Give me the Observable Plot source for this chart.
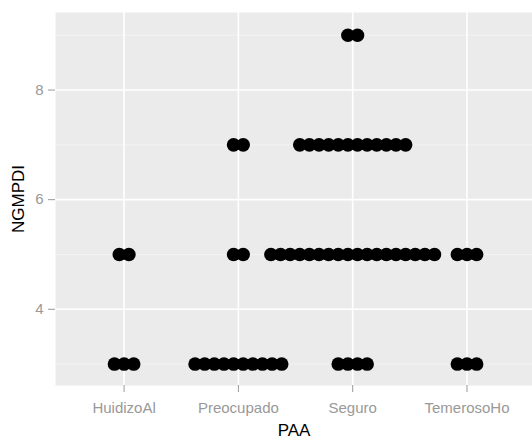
<!DOCTYPE html>
<html><head><meta charset="utf-8">
<script src="https://cdn.jsdelivr.net/npm/d3@7"></script>
<script src="https://cdn.jsdelivr.net/npm/@observablehq/plot@0.6"></script>
<style>body{margin:0;background:#fff}</style>
</head><body><div id="chart"></div>
<script>
// Categories (x axis)
const categories = ["HuidizoAl", "Preocupado", "Seguro", "TemerosoHo"];
// Groups of stacked dots: category, NGMPDI value, number of dots
const groupPAA    = ["HuidizoAl","HuidizoAl","Preocupado","Preocupado","Preocupado","Seguro","Seguro","Seguro","Seguro","TemerosoHo","TemerosoHo"];
const groupNGMPDI = [3, 5, 3, 5, 7, 3, 5, 7, 9, 3, 5];
const groupCount  = [3, 2, 10, 2, 2, 4, 18, 12, 2, 3, 3];
// Tick values
const yTicks = [4, 6, 8];
const yMinor = [3, 5, 7, 9];

const step = 0.0842; // horizontal spacing between stacked dots (x units)
const dots = [];
groupPAA.forEach((p, i) => {
  const n = groupCount[i], c = categories.indexOf(p);
  for (let k = 0; k < n; k++) dots.push({paa: p, x: c + (k - (n - 1) / 2) * step, y: groupNGMPDI[i]});
});
const catIdx = categories.map((d, i) => i);

const chart = Plot.plot({
  width: 532, height: 448,
  marginLeft: 55, marginRight: 0, marginTop: 12, marginBottom: 63,
  style: {fontFamily: "'Liberation Sans', Arial, sans-serif", fontSize: "15px", background: "white"},
  x: {domain: [-0.6, 3.573]},
  y: {domain: [2.609, 9.415]},
  marks: [
    Plot.frame({fill: "#EBEBEB", stroke: "none"}),
    Plot.ruleY(yMinor, {stroke: "#F3F3F3", strokeWidth: 1}),
    Plot.ruleY(yTicks, {stroke: "white", strokeWidth: 1.6}),
    Plot.ruleX(catIdx, {stroke: "white", strokeWidth: 1.6}),
    Plot.dot(dots, {x: "x", y: "y", r: 6.8, fill: "black", stroke: "none"}),
    Plot.axisX(catIdx, {tickFormat: i => categories[i], tickSize: 7, tickPadding: 10, stroke: "#999", color: "#999",
      label: "PAA", labelArrow: "none", labelAnchor: "center", labelOffset: 50, fontSize: 15}),
    Plot.axisY(yTicks, {tickFormat: d => String(d), tickSize: 7, tickPadding: 5, stroke: "#999", color: "#999",
      label: "NGMPDI", labelArrow: "none", labelAnchor: "center", labelOffset: 44, fontSize: 15})
  ]
});
// Axis titles in black, slightly larger, no arrows
chart.querySelectorAll("g[aria-label='x-axis label'] text, g[aria-label='y-axis label'] text").forEach(t => {
  t.setAttribute("fill", "black");
  t.style.fontSize = "17px";
  t.textContent = t.textContent.replace(/\s*[↑↓←→]\s*/g, "");
});
document.getElementById("chart").append(chart);
</script>
</body></html>
